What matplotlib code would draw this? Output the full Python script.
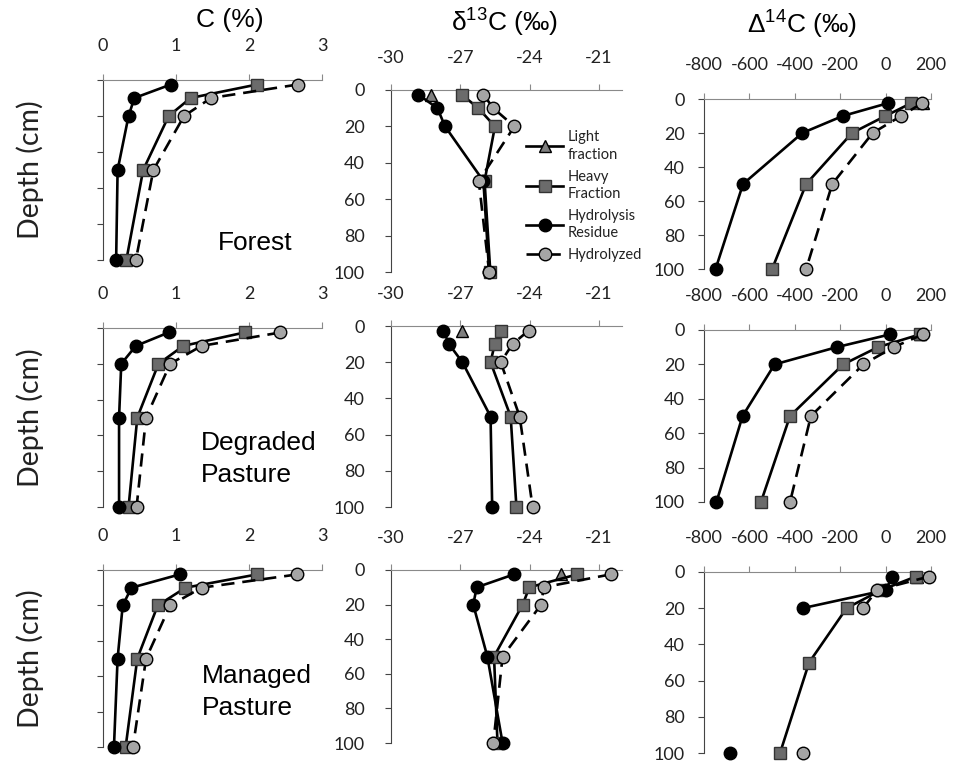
import numpy as np
import matplotlib.pyplot as plt
from matplotlib.lines import Line2D

plt.rcParams['mathtext.default'] = 'regular'
plt.rcParams['axes.unicode_minus'] = False

W, H = 957, 765

depth = [2.5, 10, 20, 50, 100]
sites = ['Forest', 'Degraded\nPasture', 'Managed\nPasture']

# C (%)  rows: forest, degraded, managed
c_heavy = [[2.11, 1.20, 0.90, 0.55, 0.32],
           [1.94, 1.10, 0.76, 0.47, 0.35],
           [2.11, 1.13, 0.75, 0.47, 0.31]]
c_residue = [[0.93, 0.43, 0.35, 0.20, 0.18],
             [0.90, 0.45, 0.25, 0.22, 0.22],
             [1.05, 0.39, 0.27, 0.20, 0.15]]
c_hydrolyzed = [[2.67, 1.48, 1.11, 0.69, 0.45],
                [2.43, 1.35, 0.92, 0.59, 0.46],
                [2.66, 1.35, 0.92, 0.59, 0.41]]

# d13C (permil)
d13_light = [-28.27, -26.93, -22.66]
d13_heavy = [[-26.94, -26.22, -25.50, -25.95, -25.70],
             [-25.25, -25.51, -25.69, -24.82, -24.57],
             [-21.93, -24.01, -24.30, -25.54, -25.39]]
d13_residue = [[-28.82, -27.99, -27.66, -26.00, -25.75],
               [-27.73, -27.49, -26.91, -25.69, -25.62],
               [-24.67, -26.29, -26.44, -25.83, -25.17]]
d13_hydrolyzed = [[-26.00, -25.57, -24.66, -26.20, -25.75],
                  [-24.04, -24.74, -25.25, -24.43, -23.87],
                  [-20.48, -23.39, -23.50, -25.17, -25.57]]

# D14C (permil)
d14_light = [165, 150, 140]
d14_heavy = [[112, -1, -148, -350, -500],
             [153, -34, -187, -421, -549],
             [134, -20, -172, -337, -465]]
d14_residue = [[9, -189, -367, -628, -749],
               [21, -216, -489, -630, -745],
               [30, 0, -366, np.nan, -685]]
d14_hydrolyzed = [[160, 68, -57, -235, -350],
                  [165, 35, -98, -329, -421],
                  [192, -37, -100, np.nan, -363]]

tick_font = dict(family='Lato', size=13)
lw = 1.9
sty_light = dict(color='black', lw=lw, marker='^', ms=9, mfc='#7f7f7f', mec='black', mew=1)
sty_heavy = dict(color='black', lw=lw, marker='s', ms=8.5, mfc='#6b6b6b', mec='#333333', mew=1)
sty_res = dict(color='black', lw=lw, marker='o', ms=9, mfc='black', mec='black')
sty_hyd = dict(color='black', lw=lw, ls=(0, (5, 3)), marker='o', ms=9, mfc='#a5a5a5', mec='black', mew=1)

fig = plt.figure(figsize=(W / 100, H / 100), dpi=100)


def px_axes(x0, x1, y0, y1):
    return fig.add_axes([x0 / W, 1 - y1 / H, (x1 - x0) / W, (y1 - y0) / H])


def style(ax, xlim, xticks, xpad, ypad, ylabels=True):
    ax.set_xlim(*xlim)
    ax.set_ylim(100, 0)
    ax.set_xticks(xticks)
    ax.set_yticks([0, 20, 40, 60, 80, 100])
    ax.xaxis.tick_top()
    for s in ['right', 'bottom']:
        ax.spines[s].set_visible(False)
    ax.spines['top'].set_color('#8a8a8a')
    ax.spines['left'].set_color('#444444')
    ax.tick_params(axis='x', direction='out', length=4, color='#8a8a8a', pad=xpad)
    ax.tick_params(axis='y', direction='out', length=4, color='#444444', pad=ypad,
                   labelleft=ylabels)
    for lab in ax.get_xticklabels() + ax.get_yticklabels():
        lab.set_fontproperties(tick_font)
        lab.set_color('#222222')


def draw(ax, light, heavy, res, hyd):
    if light is not None:
        ax.plot([light], [depth[0]], clip_on=False, zorder=3, **sty_light)
    ax.plot(heavy, depth, clip_on=False, zorder=4, **sty_heavy)
    ax.plot(res, depth, clip_on=False, zorder=5, **sty_res)
    ax.plot(hyd, depth, clip_on=False, zorder=6, **sty_hyd)


col1_rows = [(80, 260), (328, 507), (570, 747)]
col2_rows = [(90, 272), (326, 507), (570, 743)]
col3_rows = [(99, 269), (330, 502), (572, 753)]

for i in range(3):
    ax1 = px_axes(103, 322, *col1_rows[i])
    draw(ax1, None, c_heavy[i], c_residue[i], c_hydrolyzed[i])
    style(ax1, (0, 3), [0, 1, 2, 3], 15, 10, ylabels=False)

    ax2 = px_axes(391, 622, *col2_rows[i])
    draw(ax2, d13_light[i], d13_heavy[i], d13_residue[i], d13_hydrolyzed[i])
    style(ax2, (-30, -20), [-30, -27, -24, -21], 13, 15)

    ax3 = px_axes(704, 931, *col3_rows[i])
    draw(ax3, d14_light[i], d14_heavy[i], d14_residue[i], d14_hydrolyzed[i])
    style(ax3, (-800, 200), [-800, -600, -400, -200, 0, 200], 15, 10)

    if i == 0:
        handles = [Line2D([], [], **sty_light), Line2D([], [], **sty_heavy),
                   Line2D([], [], **sty_res), Line2D([], [], **sty_hyd)]
        labels = ['Light\nfraction', 'Heavy\nFraction', 'Hydrolysis\nResidue', 'Hydrolyzed']
        leg = fig.legend(handles, labels, loc='upper left', bbox_to_anchor=(519 / W, 1 - 123 / H),
                         frameon=False, prop=dict(family='Lato', size=10.5), handlelength=2.5,
                         handletextpad=0.35, labelspacing=0.55, borderpad=0)
        for t in leg.get_texts():
            t.set_linespacing(1.3)
            t.set_color('#222222')

    yc = (col1_rows[i][0] + col1_rows[i][1]) / 2
    fig.text(30 / W, 1 - yc / H, 'Depth (cm)', rotation=90, ha='center', va='center',
             family='Lato', size=20.5, color='#222222')

fig.text(255 / W, 1 - 243 / H, sites[0], ha='center', va='center',
         family='Liberation Sans', size=19)
fig.text(201 / W, 1 - 459 / H, sites[1], ha='left', va='center',
         family='Liberation Sans', size=19, linespacing=1.45)
fig.text(202 / W, 1 - 692 / H, sites[2], ha='left', va='center',
         family='Liberation Sans', size=19, linespacing=1.45)

fig.text(230 / W, 1 - 20 / H, 'C (%)', ha='center', va='center',
         family='Liberation Sans', size=19)
fig.text(504 / W, 1 - 23 / H, 'δ$^{13}$C (‰)', ha='center', va='center',
         family='Liberation Sans', size=19)
fig.text(802 / W, 1 - 25 / H, 'Δ$^{14}$C (‰)', ha='center', va='center',
         family='Liberation Sans', size=19)

fig.savefig('out.png', dpi=100)
